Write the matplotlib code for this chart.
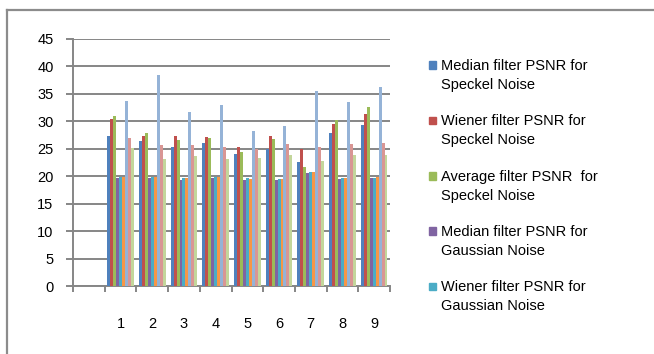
import numpy as np
import matplotlib
matplotlib.use('Agg')
import matplotlib.pyplot as plt
from matplotlib.patches import Rectangle
from matplotlib.lines import Line2D

# PSNR values per image (1..9) for each filter / noise combination
images = ['1', '2', '3', '4', '5', '6', '7', '8', '9']

median_speckle = [27.3, 26.4, 25.3, 26.0, 24.0, 24.9, 22.6, 27.8, 29.3]
wiener_speckle = [30.4, 27.4, 27.4, 27.1, 25.3, 27.3, 24.9, 29.5, 31.3]
average_speckle = [31.0, 27.8, 26.6, 26.9, 24.5, 26.7, 21.7, 30.3, 32.7]
median_gauss = [19.7, 19.7, 19.3, 19.6, 19.3, 19.3, 20.5, 19.5, 19.6]
wiener_gauss = [19.8, 19.9, 19.6, 19.8, 19.6, 19.5, 20.8, 19.6, 19.7]
average_gauss = [19.8, 19.9, 19.6, 19.8, 19.5, 19.5, 20.8, 19.6, 19.8]
median_sp = [33.7, 38.4, 31.7, 33.0, 28.3, 29.2, 35.5, 33.6, 36.2]
wiener_sp = [26.9, 25.7, 25.7, 25.3, 24.9, 25.8, 25.3, 25.9, 26.1]
average_sp = [25.1, 23.1, 23.6, 23.1, 23.3, 23.9, 22.8, 23.9, 23.9]

series = [median_speckle, wiener_speckle, average_speckle,
          median_gauss, wiener_gauss, average_gauss,
          median_sp, wiener_sp, average_sp]
colors = ['#4F81BD', '#C0504D', '#9BBB59', '#8064A2', '#4BACC6',
          '#F79646', '#95B3D7', '#D99694', '#C3D69B']
legend_labels = ['Median filter PSNR for\nSpeckel Noise',
                 'Wiener filter PSNR for\nSpeckel Noise',
                 'Average filter PSNR  for\nSpeckel Noise',
                 'Median filter PSNR for\nGaussian Noise',
                 'Wiener filter PSNR for\nGaussian Noise']

grid_col = '#868686'
W, H = 654, 354

fig = plt.figure(figsize=(W / 100, H / 100), dpi=100)
fig.patch.set_facecolor('white')

# outer chart frame (only left and top edges fall inside the canvas)
fig.add_artist(Line2D([7 / W, 7 / W], [0, 1 - 10 / H], transform=fig.transFigure,
                      color='#8C8C8C', lw=1.6))
fig.add_artist(Line2D([7 / W, 1], [1 - 10 / H, 1 - 10 / H], transform=fig.transFigure,
                      color='#8C8C8C', lw=1.6))

ax = fig.add_axes([73 / W, 1 - 286 / H, (390 - 73) / W, (286 - 39) / H])

x = np.arange(1, 10)
n = len(series)
w = 0.84 / n
for k, (vals, c) in enumerate(zip(series, colors)):
    ax.bar(x + (k - (n - 1) / 2) * w, vals, width=w, color=c, zorder=3)

ax.set_xlim(-0.5, 9.5)
ax.set_ylim(0, 45)
ax.set_yticks(np.arange(0, 46, 5))
ax.yaxis.grid(True, color=grid_col, lw=1.4, zorder=0)

ax.set_xticks(np.arange(-0.5, 10, 1))
ax.set_xticklabels([])
ax.set_xticks(x, minor=True)
ax.set_xticklabels(images, minor=True, fontsize=10.5, family=['Liberation Sans', 'DejaVu Sans'])
ax.tick_params(axis='x', which='major', length=4, width=1.4, color=grid_col, direction='out')
ax.tick_params(axis='x', which='minor', length=0, pad=22)
ax.tick_params(axis='y', length=5, width=1.4, color=grid_col, direction='out', pad=9,
               labelsize=10.5)
for lab in ax.get_yticklabels():
    lab.set_family(['Liberation Sans', 'DejaVu Sans'])

for s in ['top', 'right']:
    ax.spines[s].set_visible(False)
for s in ['left', 'bottom']:
    ax.spines[s].set_color(grid_col)
    ax.spines[s].set_linewidth(1.4)
ax.set_facecolor('white')

# legend, Excel-style, only five entries fit in the box
y0 = 65
step = 55.3
for i, lab in enumerate(legend_labels):
    yc = y0 + i * step
    fig.add_artist(Rectangle((429 / W, 1 - (yc + 4) / H), 7.5 / W, 7.5 / H,
                             transform=fig.transFigure, color=colors[i]))
    fig.text(441 / W, 1 - (yc - 6) / H, lab, fontsize=10.5, va='top', ha='left',
             linespacing=1.45, family=['Liberation Sans Narrow', 'Liberation Sans', 'DejaVu Sans'])

fig.savefig('out.png', dpi=100)
